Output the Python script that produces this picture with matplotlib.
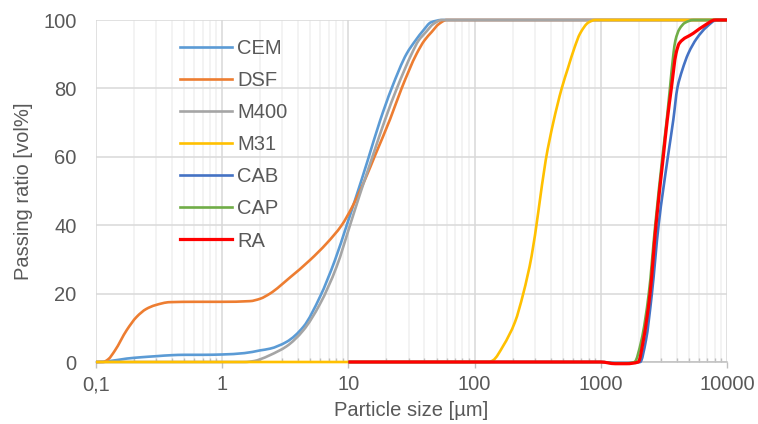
import matplotlib
matplotlib.use("Agg")
import matplotlib.pyplot as plt
from matplotlib.path import Path
from matplotlib.patches import PathPatch
from matplotlib.lines import Line2D
from matplotlib.ticker import FixedLocator, NullFormatter
import numpy as np

plt.rcParams['font.family'] = ['Liberation Sans', 'DejaVu Sans']

# particle size [um] / passing ratio [vol%]
cem_x = [0.1, 0.13, 0.175, 0.23, 0.3, 0.4, 0.5, 0.7, 1.0, 1.5, 2.0, 2.39, 3.24, 4.4, 5.96, 7.83,
         9.7, 11.3, 14.1, 17.8, 22.0, 29.0, 34, 39.3, 45, 55, 10000]
cem_y = [0, 0.3, 1.0, 1.4, 1.7, 2.0, 2.1, 2.1, 2.2, 2.6, 3.4, 3.9, 5.9, 10.3, 19.1, 29.8,
         40, 47.4, 58.5, 70.5, 80, 90.2, 94, 97, 99.3, 100, 100]

dsf_x = [0.1, 0.114, 0.125, 0.1415, 0.175, 0.21, 0.25, 0.294, 0.385, 0.6, 1.0, 1.66, 2.0, 2.39,
         3.44, 4.96, 6.73, 8.85, 10.6, 11.8, 13.6, 16.3, 21.4, 26.4, 34.8, 40, 45.7, 52, 60, 10000]
dsf_y = [0, 0, 0.8, 3.4, 9.3, 13.2, 15.5, 16.6, 17.5, 17.6, 17.6, 17.8, 18.5, 20.0,
         24.7, 29.8, 34.7, 40, 45, 48.5, 53.5, 60.5, 71, 80, 90.2, 94, 96.5, 98.8, 100, 100]

m400_x = [0.1, 1.5, 1.8, 2.0, 2.39, 3.24, 4.4, 5.96, 8.07, 10.3, 12.2, 15.5, 19.5, 24.2, 31.8,
          36, 41.2, 47, 55, 10000]
m400_y = [0, 0, 0.3, 0.8, 2.0, 4.6, 9.3, 17, 27.9, 40, 48.5, 60, 70.8, 80, 90.2,
          94, 96.5, 98.8, 100, 100]

m31_x = [0.1, 130, 140, 169, 209, 243, 283, 320, 366, 420, 490, 550, 620, 684, 800, 900, 10000]
m31_y = [0, 0, 0.5, 4.8, 11.7, 20, 31, 44, 59, 70, 80, 86, 92, 96, 99.3, 100, 100]

cab_x = [10, 1000, 1300, 1600, 2050, 2280, 2540, 2870, 3400, 3754, 4038, 4424, 4934, 5754,
         6905, 8285, 10000]
cab_y = [0, 0, -0.3, -0.3, 0, 6.4, 20, 40, 60, 70.8, 80, 85.4, 90.2, 94.6, 98, 100, 100]

cap_x = [10, 1000, 1300, 1600, 1850, 2100, 2400, 2700, 3080, 3330, 3530, 3760, 3900, 4190,
         4650, 5400, 10000]
cap_y = [0, 0, -0.4, -0.4, 0, 6.4, 20, 40, 60, 70.8, 80, 90, 94, 97.3, 99.2, 100, 100]

ra_x = [10, 1000, 1300, 1600, 1982, 2175, 2455, 2736, 3127, 3365, 3622, 3945, 4190, 5400,
        6700, 8040, 10000]
ra_y = [0, 0, -0.5, -0.5, 0, 6.4, 20, 40, 60, 70.8, 80, 90.2, 93.2, 96.1, 98.5, 100, 100]

series = [
    ("CEM", cem_x, cem_y, "#5B9BD5", 1.9),
    ("DSF", dsf_x, dsf_y, "#ED7D31", 1.9),
    ("M400", m400_x, m400_y, "#A5A5A5", 1.9),
    ("M31", m31_x, m31_y, "#FFC000", 1.9),
    ("CAB", cab_x, cab_y, "#4472C4", 1.9),
    ("CAP", cap_x, cap_y, "#70AD47", 1.9),
    ("RA", ra_x, ra_y, "#FF0000", 2.3),
]


def smooth_path(xs, ys):
    # cubic Bezier through the points (like Excel's "smoothed line"),
    # control points set in log-x space so the log axis maps them straight
    lx = np.log10(xs)
    y = np.asarray(ys, float)
    h = np.diff(lx)
    d = np.diff(y) / h
    n = len(lx)
    m = np.zeros(n)
    for i in range(1, n - 1):
        if d[i - 1] * d[i] > 0:
            w1 = 2 * h[i] + h[i - 1]
            w2 = h[i] + 2 * h[i - 1]
            m[i] = (w1 + w2) / (w1 / d[i - 1] + w2 / d[i])
    verts = [(xs[0], y[0])]
    codes = [Path.MOVETO]
    for i in range(n - 1):
        c1 = (10 ** (lx[i] + h[i] / 3), y[i] + m[i] * h[i] / 3)
        c2 = (10 ** (lx[i + 1] - h[i] / 3), y[i + 1] - m[i + 1] * h[i] / 3)
        verts += [c1, c2, (xs[i + 1], y[i + 1])]
        codes += [Path.CURVE4] * 3
    return Path(verts, codes)


fig = plt.figure(figsize=(7.58, 4.24), dpi=100)
ax = fig.add_axes([96 / 758, 62 / 424, 631 / 758, 342 / 424])

ax.set_xscale('log')
ax.set_xlim(0.1, 10000)
ax.set_ylim(0, 100)

handles = []
for name, xs, ys, col, lw in series:
    ax.add_patch(PathPatch(smooth_path(xs, ys), facecolor='none', edgecolor=col, lw=lw,
                           capstyle='butt', clip_on=False, zorder=3))
    handles.append(Line2D([], [], color=col, lw=lw, label=name))

majors = [0.1, 1, 10, 100, 1000, 10000]
ax.xaxis.set_major_locator(FixedLocator(majors))
ax.set_xticklabels(["0,1", "1", "10", "100", "1000", "10000"])
minors = [m * d for d in [0.1, 1, 10, 100, 1000] for m in range(2, 10)]
ax.xaxis.set_minor_locator(FixedLocator(minors))
ax.xaxis.set_minor_formatter(NullFormatter())
ax.set_yticks([0, 20, 40, 60, 80, 100])

ax.grid(which='major', axis='both', color='#D9D9D9', lw=1.1, zorder=0)
ax.grid(which='minor', axis='x', color='#F0F0F0', lw=1.1, zorder=0)
ax.set_axisbelow(True)

for s in ['top', 'right', 'left']:
    ax.spines[s].set_visible(False)
ax.spines['bottom'].set_color('#BFBFBF')
ax.spines['bottom'].set_linewidth(1.1)

fs = 14.5
ax.tick_params(axis='x', which='major', direction='out', length=4.5, width=1.0, color='#BFBFBF',
               labelsize=fs, labelcolor='#595959', pad=5)
ax.tick_params(axis='x', which='minor', direction='in', length=3, width=1.0, color='#BFBFBF')
ax.tick_params(axis='y', length=0, labelsize=fs, labelcolor='#595959', pad=14)

ax.set_xlabel("Particle size [µm]", fontsize=fs, color='#595959', labelpad=5)
ax.set_ylabel("Passing ratio [vol%]", fontsize=fs, color='#595959', labelpad=7)

leg = ax.legend(handles=handles, loc='upper left', bbox_to_anchor=(84 / 631, 1 - 19 / 342),
                frameon=False, fontsize=fs, handlelength=2.6, handletextpad=0.25,
                labelspacing=0.65, borderpad=0, borderaxespad=0)
for t in leg.get_texts():
    t.set_color('#595959')

fig.savefig("out.png", dpi=100)
